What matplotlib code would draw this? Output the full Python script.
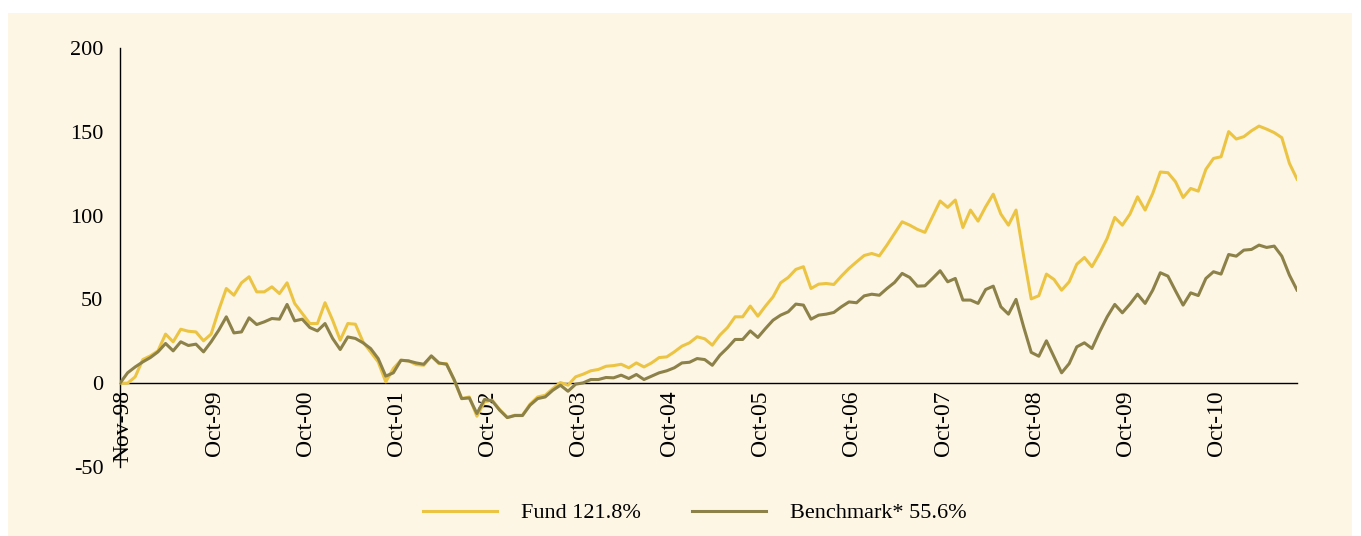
import numpy as np
import matplotlib
matplotlib.use('Agg')
import matplotlib.pyplot as plt
import matplotlib.transforms as mtransforms
from matplotlib.patches import Rectangle

# cumulative performance, % (monthly, Nov-98 onwards)
fund = [0, 0, 3.8, 14.1, 16.3, 19.3, 29.3, 24.7, 32.2, 31, 30.6, 25.3,
        29.3, 43.6, 56.5, 52.5, 59.9, 63.5, 54.5, 54.5, 57.5, 53.5, 59.9, 47.6,
        41.6, 35.6, 35.6, 48, 37.6, 25.7, 35.6, 35.2, 24.7, 18.7, 12.7, 0.8,
        8.8, 13.7, 13.3, 11.1, 10.7, 16.1, 11.7, 11.7, 1.8, -9.2, -8.2, -19.7,
        -11.1, -10.1, -15.7, -20.5, -19.1, -19.1, -12.5, -8.2, -7.2, -3.2, 0.4, -1.2,
        3.8, 5.4, 7.4, 8.2, 10.1, 10.5, 11.3, 9.2, 12.1, 9.7, 12.1, 15.3,
        15.7, 18.7, 22.1, 24.1, 27.7, 26.5, 22.7, 28.7, 33.2, 39.6, 39.6, 46,
        40, 46, 51.5, 59.9, 63.1, 67.9, 69.5, 56.5, 59.1, 59.5, 58.9, 63.9,
        68.5, 72.4, 76.2, 77.4, 76, 82.4, 89.4, 96.3, 94.3, 91.8, 90, 99.3,
        108.7, 104.9, 109.3, 92.9, 103.3, 96.7, 105.3, 112.8, 100.9, 94.3, 103.3, 76,
        50.3, 52.2, 65.1, 61.9, 55.5, 60.5, 71, 75, 69.5, 77.4, 86.4, 98.9,
        94.3, 100.9, 111.2, 103.3, 113.2, 126, 125.6, 120.2, 110.8, 116.2, 114.6, 127.6,
        134.1, 135.1, 150.1, 145.7, 147.1, 150.6, 153.4, 151.6, 149.5, 146.5, 131.2, 121.8]

benchmark = [0, 6.2, 9.7, 12.7, 15.3, 18.7, 23.7, 19.3, 24.7, 22.5, 23.3, 18.7,
             24.7, 31.6, 39.6, 30, 30.6, 39, 35, 36.6, 38.6, 38.2, 47, 37.2,
             38.2, 33.2, 31.2, 35.6, 26.7, 20.1, 27.6, 26.7, 24.1, 20.7, 14.7, 4.2,
             6.2, 13.7, 13.3, 12.1, 11.3, 16.3, 12.1, 11.3, 2.2, -9.2, -8.8, -18.1,
             -9.7, -10.5, -16.1, -20.5, -19.3, -19.3, -13.1, -9.2, -8.2, -4.2, -1.2, -4.8,
             -0.6, 0.2, 2.2, 2.2, 3.4, 3.2, 4.8, 2.8, 5.2, 2.2, 4.2, 6.2,
             7.4, 9.2, 12.1, 12.5, 14.7, 14.1, 10.7, 16.7, 21.1, 26.1, 26.1, 31.2,
             27.3, 32.6, 37.6, 40.6, 42.6, 47.2, 46.6, 38.2, 40.6, 41.2, 42.2, 45.6,
             48.5, 48, 52.1, 53.1, 52.5, 56.5, 60.1, 65.5, 63.1, 57.9, 58.1, 62.5,
             67.1, 60.5, 62.5, 49.6, 49.6, 47.6, 55.9, 57.9, 45.6, 41.2, 50, 33.6,
             18.4, 16.1, 25.3, 15.7, 6.2, 11.7, 21.7, 24.1, 20.7, 30.6, 39.6, 47,
             42, 47.2, 53.1, 47.6, 55.5, 65.9, 63.9, 55.1, 46.6, 53.9, 52.3, 62.5,
             66.5, 65.1, 76.8, 75.8, 79.4, 79.8, 82.4, 81, 81.8, 75.8, 64.5, 55.6]

tick_labels = ['Nov-98', 'Oct-99', 'Oct-00', 'Oct-01', 'Oct-02', 'Oct-03', 'Oct-04',
               'Oct-05', 'Oct-06', 'Oct-07', 'Oct-08', 'Oct-09', 'Oct-10']
legend_labels = ['Fund 121.8%', 'Benchmark* 55.6%']

cream = '#fdf6e4'
fund_col = '#ecc444'
bench_col = '#8c8148'

plt.rcParams['font.family'] = ['Liberation Serif', 'DejaVu Serif']
plt.rcParams['axes.unicode_minus'] = False

fig = plt.figure(figsize=(13.61, 5.36), dpi=100, facecolor='white')
# cream panel behind everything
fig.patches.append(Rectangle((8 / 1361, 0), 1344 / 1361, 523 / 536,
                             transform=fig.transFigure, facecolor=cream,
                             edgecolor='none', zorder=-10))

ax = fig.add_axes([120 / 1361, 1 - 467 / 536, 1177 / 1361, 419 / 536])
ax.patch.set_visible(False)

# zero line doubles as x axis (set before ticks, it resets them)
for s in ['top', 'right']:
    ax.spines[s].set_visible(False)
ax.spines['bottom'].set_position(('data', 0))
ax.spines['bottom'].set_linewidth(1)
ax.spines['left'].set_linewidth(1)

x = np.arange(len(fund))
l1, = ax.plot(x, fund, color=fund_col, lw=2.2, zorder=3)
l2, = ax.plot(x, benchmark, color=bench_col, lw=2.2, zorder=3)

ax.set_xlim(0, len(fund) - 1)
ax.set_ylim(-50, 200)
ax.set_yticks([-50, 0, 50, 100, 150, 200])
ax.set_xticks(np.arange(0, 12 * len(tick_labels), 12))
ax.set_xticklabels(tick_labels)
ax.tick_params(axis='x', length=0, pad=5, labelsize=17, labelrotation=90)
ax.tick_params(axis='y', length=0, pad=12, labelsize=16)

# nudge rotated date labels a little to the right
shift = mtransforms.ScaledTranslation(3 / 100, 0, fig.dpi_scale_trans)
for lab in ax.get_xticklabels():
    lab.set_transform(lab.get_transform() + shift)

fig.legend([l1, l2], legend_labels, loc='center', bbox_to_anchor=(695 / 1361, 1 - 513 / 536),
           ncol=2, frameon=False, fontsize=16, handlelength=3.3, handletextpad=1.1,
           columnspacing=2.3)

fig.savefig('out.png', dpi=100, facecolor='white')
